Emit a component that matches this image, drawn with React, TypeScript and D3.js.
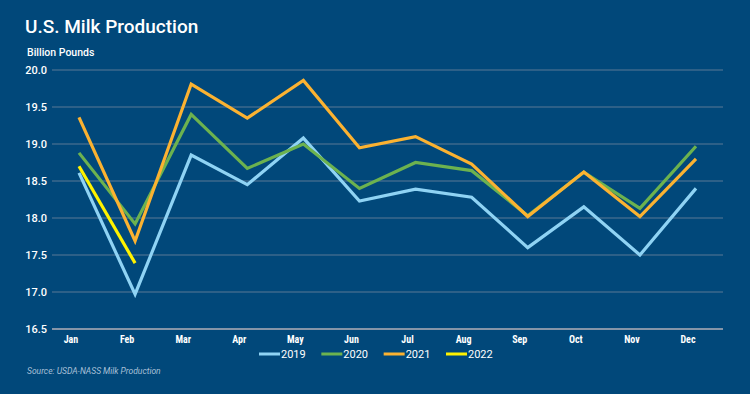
import React, { useRef, useEffect } from 'react';
import * as d3 from 'd3';

const months = ['Jan', 'Feb', 'Mar', 'Apr', 'May', 'Jun', 'Jul', 'Aug', 'Sep', 'Oct', 'Nov', 'Dec'];
const yTicks = [16.5, 17.0, 17.5, 18.0, 18.5, 19.0, 19.5, 20.0];

const milk2019 = [18.61, 16.97, 18.85, 18.45, 19.08, 18.23, 18.39, 18.28, 17.6, 18.15, 17.5, 18.4];
const milk2020 = [18.88, 17.92, 19.4, 18.67, 19.0, 18.4, 18.75, 18.64, 18.03, 18.62, 18.13, 18.97];
const milk2021 = [19.36, 17.69, 19.81, 19.35, 19.86, 18.95, 19.1, 18.73, 18.02, 18.62, 18.02, 18.8];
const milk2022 = [18.7, 17.39];

const seriesNames = ['2019', '2020', '2021', '2022'];
const seriesColors = ['#8fd3f4', '#6cb24f', '#fbb231', '#fff200'];

const W = 750;
const H = 394;

const App: React.FC = () => {
  const svgRef = useRef<SVGSVGElement>(null);

  useEffect(() => {
    if (!svgRef.current) return;
    const root = d3.select(svgRef.current);
    root.selectAll('*').remove();

    root.append('rect').attr('width', W).attr('height', H).attr('fill', '#01487a');

    const x = d3.scalePoint<string>().domain(months).range([79, 696]);
    const y = d3.scaleLinear().domain([16.5, 20]).range([329, 70]);

    // title
    root.append('text')
      .attr('x', 25).attr('y', 33)
      .attr('fill', '#fff')
      .attr('font-family', 'Roboto, sans-serif')
      .attr('font-weight', 500)
      .attr('font-size', 19)
      .text('U.S. Milk Production');

    root.append('text')
      .attr('x', 27).attr('y', 56)
      .attr('fill', '#fff')
      .attr('font-family', 'Roboto, sans-serif')
      .attr('font-weight', 500)
      .attr('font-size', 10.5)
      .text('Billion Pounds');

    // grid
    root.append('g').selectAll('line')
      .data(yTicks)
      .enter()
      .append('line')
      .attr('x1', 52).attr('x2', 723)
      .attr('y1', d => y(d)).attr('y2', d => y(d))
      .attr('stroke', d => d === 16.5 ? '#8595a8' : '#5a7895')
      .attr('stroke-width', d => d === 16.5 ? 2 : 1);

    root.append('g').selectAll('text')
      .data(yTicks)
      .enter()
      .append('text')
      .attr('x', 47).attr('y', d => y(d) + 4)
      .attr('text-anchor', 'end')
      .attr('fill', '#fff')
      .attr('font-family', 'Roboto, sans-serif')
      .attr('font-weight', 500)
      .attr('font-size', 11)
      .text(d => d.toFixed(1));

    root.append('g').selectAll('text')
      .data(months)
      .enter()
      .append('text')
      .attr('x', d => x(d)! - 8).attr('y', 343)
      .attr('text-anchor', 'middle')
      .attr('fill', '#fff')
      .attr('font-family', '"Liberation Sans Narrow", "Roboto Condensed", sans-serif')
      .attr('font-weight', 700)
      .attr('font-size', 10)
      .text(d => d);

    // lines
    const allSeries = [milk2019, milk2020, milk2021, milk2022];
    const line = d3.line<number>()
      .x((_, i) => x(months[i])!)
      .y(d => y(d));

    allSeries.forEach((s, i) => {
      root.append('path')
        .datum(s)
        .attr('d', line)
        .attr('fill', 'none')
        .attr('stroke', seriesColors[i])
        .attr('stroke-width', 3.2)
        .attr('stroke-linejoin', 'miter');
    });

    // legend
    const legend = root.append('g');
    const lx = d3.scalePoint<string>().domain(seriesNames).range([259, 446]);
    seriesNames.forEach((name, i) => {
      const gx = lx(name)!;
      legend.append('line')
        .attr('x1', gx).attr('x2', gx + 21)
        .attr('y1', 354).attr('y2', 354)
        .attr('stroke', seriesColors[i])
        .attr('stroke-width', 3);
      legend.append('text')
        .attr('x', gx + 22).attr('y', 358)
        .attr('fill', '#fff')
        .attr('font-family', 'Roboto, sans-serif')
        .attr('font-size', 11)
        .text(name);
    });

    root.append('text')
      .attr('x', 27).attr('y', 374)
      .attr('fill', '#a9c0d8')
      .attr('font-family', 'Roboto, sans-serif')
      .attr('font-style', 'italic')
      .attr('font-size', 8.5)
      .text('Source: USDA-NASS Milk Production');
  }, []);

  return (
    <svg
      ref={svgRef}
      width={W}
      height={H}
      style={{ position: 'absolute', left: 0, top: 0, display: 'block' }}
    />
  );
};

export default App;
